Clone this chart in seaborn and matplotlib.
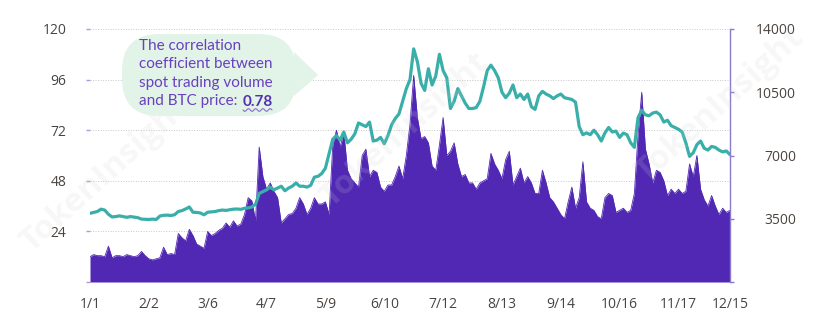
import numpy as np
import pandas as pd
import matplotlib
matplotlib.use("Agg")
import matplotlib.pyplot as plt
import seaborn as sns
from matplotlib.patches import FancyBboxPatch, Polygon
from matplotlib.lines import Line2D

# Spot trading volume (left axis) and BTC price in USD (right axis), every other day of 2019
volume = [
    12, 13, 12.5, 12.5, 12, 17, 11.5, 12.5, 12.5, 12,
    13, 12.5, 12, 12.5, 14.5, 12.5, 11, 10.5, 11, 11.5,
    16.5, 13, 13.5, 13, 23, 21, 19.5, 25, 22, 18,
    17, 16, 24, 22, 23, 24.5, 25.5, 28, 26, 29,
    26.5, 27.5, 32, 40, 38.5, 29, 64, 50, 44, 47,
    43, 40, 28, 30, 32, 32.5, 35, 40, 37, 32,
    35, 40, 37, 37, 38, 32, 65, 72, 64, 71,
    53, 49, 47, 45, 60, 63, 50, 53, 52, 45,
    43, 46, 46, 50, 55, 49, 60, 75, 98, 78,
    68, 69, 66, 55, 53, 65, 78, 60, 62, 66,
    56, 50, 51, 47, 47, 44, 47, 48, 49, 61,
    56, 53, 49, 58, 62, 46, 50, 54, 47, 50,
    47, 42, 42, 53, 47, 40, 38, 35, 32, 30,
    38, 45, 35, 40, 57, 38, 35, 34, 31, 30,
    40, 42, 41, 33, 34, 35, 33, 34, 42, 70,
    90, 63, 56, 47, 53, 52, 48, 41, 44, 42,
    44, 42, 43, 56, 50, 60, 44, 39, 36, 41,
    36, 32, 35, 33, 34,
]
price = [
    3800, 3850, 3900, 4030, 3980, 3750, 3600, 3620, 3660, 3620,
    3580, 3620, 3590, 3560, 3480, 3470, 3460, 3480, 3460, 3650,
    3690, 3700, 3680, 3720, 3900, 3950, 4040, 4150, 3860, 3850,
    3820, 3720, 3860, 3880, 3900, 3950, 3980, 3960, 4000, 4030,
    4040, 4020, 4080, 4100, 4150, 4300, 4900, 5000, 5100, 5250,
    5100, 5200, 5300, 5050, 5200, 5300, 5480, 5300, 5300, 5250,
    5350, 5800, 5850, 6000, 6300, 7100, 7900, 8100, 7850, 8300,
    7700, 7900, 8200, 8800, 8700, 8600, 8850, 7800, 7850, 8000,
    7650, 8100, 8700, 9050, 9300, 10000, 10700, 11200, 12900, 12200,
    11000, 10600, 11800, 10900, 11400, 12600, 11700, 11300, 9600, 10000,
    10700, 10300, 9900, 9600, 9600, 9650, 10000, 10800, 11700, 12000,
    11700, 11300, 10500, 10200, 10450, 10900, 10200, 10400, 10100, 10400,
    9700, 9550, 10300, 10550, 10400, 10300, 10150, 10300, 10400, 10200,
    10150, 10100, 9950, 8600, 8150, 8250, 8150, 8400, 8150, 7800,
    8250, 8550, 8300, 8350, 8000, 8240, 8150, 7700, 7450, 9100,
    9500, 9250, 9200, 9350, 9400, 9250, 8850, 8950, 8650, 8550,
    8450, 8300, 7700, 6950, 7150, 7600, 7800, 7400, 7300, 7500,
    7450, 7300, 7200, 7250, 7050,
]
dates = pd.date_range("2019-01-01", "2019-12-15", freq="2D")

tick_dates = ["2019-01-01", "2019-02-02", "2019-03-06", "2019-04-07", "2019-05-09",
              "2019-06-10", "2019-07-12", "2019-08-13", "2019-09-14", "2019-10-16",
              "2019-11-17", "2019-12-15"]
tick_labels = ["1/1", "2/2", "3/6", "4/7", "5/9", "6/10", "7/12", "8/13", "9/14",
               "10/16", "11/17", "12/15"]
volume_ticks = [0, 24, 48, 72, 96, 120]
volume_labels = ["", "24", "48", "72", "96", "120"]
price_ticks = [0, 3500, 7000, 10500, 14000]
price_labels = ["", "3500", "7000", "10500", "14000"]

df = pd.DataFrame({"date": dates, "volume": volume, "price": price})

PURPLE = "#5128b4"
TEAL = "#3aafaa"
AXIS_PURPLE = "#8a7ad0"
TICK_TEXT = "#4a4440"

sns.set_style("white")
plt.rcParams["font.family"] = ["Open Sans", "DejaVu Sans"]

W, H = 826, 334
fig = plt.figure(figsize=(W / 100, H / 100), dpi=100)
ax = fig.add_axes([90 / W, 52 / H, 640 / W, 253 / H])

# volume area
ax.fill_between(df["date"], 0, df["volume"], color=PURPLE, linewidth=0, zorder=2)
sns.lineplot(data=df, x="date", y="volume", ax=ax, color=PURPLE, linewidth=0.6, zorder=2)
ax.set_xlim(dates[0], dates[-1])
ax.set_ylim(0, 120)
ax.set_yticks(volume_ticks)
ax.set_yticklabels(volume_labels)
ax.set_xticks(pd.to_datetime(tick_dates))
ax.set_xticklabels(tick_labels)
ax.set_xlabel("")
ax.set_ylabel("")
ax.grid(axis="y", linestyle=(0, (1, 1.6)), color="#c8c8c8", linewidth=0.7, zorder=0)
ax.set_axisbelow(True)
for s in ax.spines.values():
    s.set_visible(False)
ax.tick_params(axis="y", left=True, length=3, width=1, color="#a99be0",
               pad=14, labelsize=10, labelcolor=TICK_TEXT)
ax.tick_params(axis="x", bottom=False, length=0, pad=11, labelsize=10, labelcolor=TICK_TEXT)

# BTC price line
ax2 = ax.twinx()
sns.lineplot(data=df, x="date", y="price", ax=ax2, color=TEAL, linewidth=2.3, zorder=3)
ax2.set_ylim(0, 14000)
ax2.set_xlim(dates[0], dates[-1])
ax2.set_yticks(price_ticks)
ax2.set_yticklabels(price_labels)
ax2.set_ylabel("")
for name, s in ax2.spines.items():
    s.set_visible(name == "right")
ax2.spines["right"].set_color(AXIS_PURPLE)
ax2.spines["right"].set_linewidth(1.0)
ax2.tick_params(axis="y", right=True, length=3, width=1, color=AXIS_PURPLE,
                pad=44.5, labelsize=10, labelcolor=TICK_TEXT)
for lab in ax2.get_yticklabels():
    lab.set_horizontalalignment("right")


def fx(px):
    return px / W


def fy(py):
    return (H - py) / H


# callout bubble
bubble_color = "#e2f3e8"
box = FancyBboxPatch((fx(122), fy(116)), fx(296) - fx(122), fy(34) - fy(116),
                     boxstyle="round,pad=0,rounding_size=0.045",
                     transform=fig.transFigure, facecolor=bubble_color,
                     edgecolor="none", zorder=5, mutation_aspect=W / H)
fig.patches.append(box)
tri = Polygon([(fx(294), fy(52)), (fx(318), fy(75)), (fx(294), fy(96))],
              closed=True, transform=fig.transFigure, facecolor=bubble_color,
              edgecolor="none", zorder=5)
fig.patches.append(tri)

TEXT_PURPLE = "#6840c0"
lines = ["The correlation", "coefficient between", "spot trading volume", "and BTC price:"]
baselines = [50, 68.5, 87, 105.5]
for txt, b in zip(lines, baselines):
    fig.text(fx(139), fy(b), txt, color=TEXT_PURPLE, fontsize=11,
             family=["Lato", "DejaVu Sans"], va="baseline", ha="left", zorder=6)
fig.text(fx(243), fy(105.5), "0.78", color="#5530b0", fontsize=11, fontweight="bold",
         family=["Lato", "DejaVu Sans"], va="baseline", ha="left", zorder=6)

# wavy underline under the coefficient
wx = np.linspace(243, 272, 60)
wy = 110 + 1.3 * np.sin((wx - 243) / 29 * 2 * np.pi * 4)
fig.lines.append(Line2D(fx(wx), fy(wy), transform=fig.transFigure,
                        color="#8a6ad0", linewidth=0.8, zorder=6))

# faint watermarks
for cx, cy in [(105, 175), (405, 130), (720, 105)]:
    fig.text(fx(cx), fy(cy), "TokenInsight", rotation=42, fontsize=24, fontweight="bold",
             color="#d0d0d0", alpha=0.16, ha="center", va="center", zorder=4,
             family=["Open Sans", "DejaVu Sans"])

fig.savefig("out.png", dpi=100)
